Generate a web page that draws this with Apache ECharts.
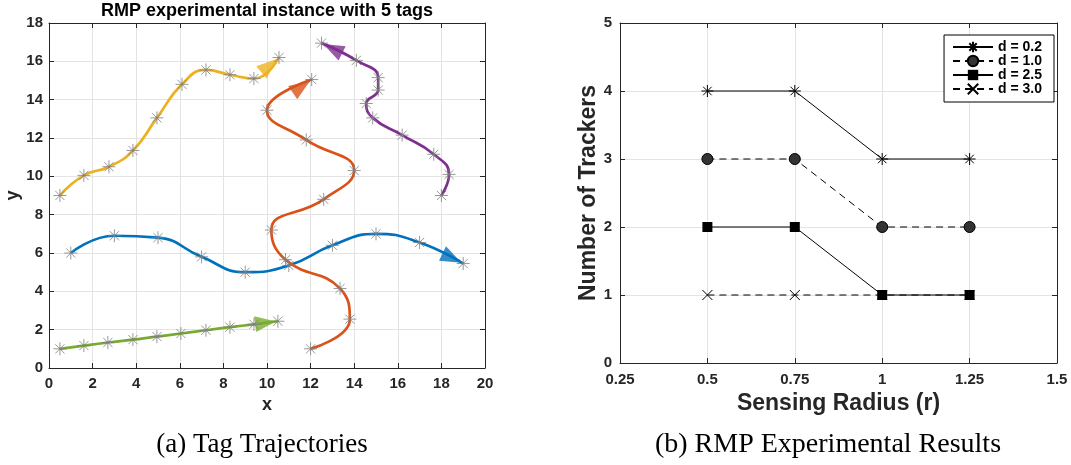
<!DOCTYPE html>
<html><head><meta charset="utf-8">
<script src="https://cdn.jsdelivr.net/npm/echarts@6/dist/echarts.min.js"></script>
<style>html,body{margin:0;padding:0;background:#fff}#c{width:1071px;height:465px}</style>
</head><body><div id="c"></div>
<script>
// ---- Left chart: tag trajectories (x, y of the sampled positions) ----
const tagNames = ['Tag 1', 'Tag 2', 'Tag 3', 'Tag 4', 'Tag 5'];
const tag1X = [1.0, 3.0, 5.0, 7.0, 9.0, 11.0, 13.0, 15.0, 17.0, 19.0];
const tag1Y = [6.0, 6.9, 6.8, 5.8, 5.0, 5.35, 6.4, 7.0, 6.55, 5.45];
const tag2X = [12.0, 13.8, 13.35, 10.85, 10.2, 12.6, 14.0, 11.8, 10.0, 12.05];
const tag2Y = [1.0, 2.55, 4.15, 5.65, 7.2, 8.8, 10.3, 11.9, 13.45, 15.05];
const tag3X = [0.5, 1.6, 2.75, 3.85, 4.95, 6.1, 7.2, 8.3, 9.4, 10.55];
const tag3Y = [9.0, 10.05, 10.5, 11.35, 13.05, 14.8, 15.55, 15.3, 15.1, 16.2];
const tag4X = [18.0, 18.35, 17.65, 16.2, 14.85, 14.55, 15.1, 15.1, 14.1, 12.5];
const tag4Y = [9.0, 10.1, 11.15, 12.15, 13.05, 13.8, 14.5, 15.15, 16.05, 16.95];
const tag5X = [0.5, 1.6, 2.7, 3.85, 4.95, 6.05, 7.2, 8.3, 9.4, 10.5];
const tag5Y = [1.0, 1.17, 1.33, 1.48, 1.64, 1.8, 1.97, 2.13, 2.28, 2.44];

// ---- Right chart: number of trackers vs sensing radius ----
const sensingRadius = [0.5, 0.75, 1.0, 1.25];
const trackersD02 = [4, 4, 3, 3];
const trackersD10 = [3, 3, 2, 2];
const trackersD25 = [2, 2, 1, 1];
const trackersD30 = [1, 1, 1, 1];
const legendLabels = ['d = 0.2', 'd = 1.0', 'd = 2.5', 'd = 3.0'];

const tagXs = [tag1X, tag2X, tag3X, tag4X, tag5X];
const tagYs = [tag1Y, tag2Y, tag3Y, tag4Y, tag5Y];
const tagColors = ['#0072BD', '#D95319', '#EDB120', '#7E2F8E', '#77AC30'];

const ASTERISK = 'path://M0,-10L0,10M-10,0L10,0M-7.07,-7.07L7.07,7.07M-7.07,7.07L7.07,-7.07';
const XMARK = 'path://M-10,-10L10,10M-10,10L10,-10';
const FONT = '"Liberation Sans", Arial, Helvetica, sans-serif';
const SERIF = '"Liberation Serif", "Times New Roman", serif';
const AXC = '#262626';

function zip(xs, ys) { return xs.map((x, i) => [x, ys[i]]); }

const chart = echarts.init(document.getElementById('c'), null, {renderer: 'canvas'});

const tickLbl = {fontFamily: FONT, fontWeight: 'bold', fontSize: 15, color: AXC};
function mainAxis(extra) {
  return Object.assign({
    type: 'value',
    axisLine: {show: true, onZero: false, lineStyle: {color: AXC, width: 1}},
    axisTick: {show: true, inside: true, length: 5, lineStyle: {color: AXC}},
    axisLabel: Object.assign({}, tickLbl),
    splitLine: {show: true, lineStyle: {color: '#e3e3e3', width: 1}},
    nameLocation: 'middle',
    nameTextStyle: {fontFamily: FONT, fontWeight: 'bold', color: AXC}
  }, extra);
}
function ghostAxis(extra) {
  return Object.assign({
    type: 'value',
    axisLine: {show: true, onZero: false, lineStyle: {color: AXC, width: 1}},
    axisTick: {show: true, inside: true, length: 5, lineStyle: {color: AXC}},
    axisLabel: {show: false},
    splitLine: {show: false}
  }, extra);
}

const series = [];
tagXs.forEach((xs, i) => {
  series.push({
    type: 'line', name: tagNames[i], xAxisIndex: 0, yAxisIndex: 0,
    data: zip(xs, tagYs[i]), smooth: 0.5, showSymbol: false, symbol: 'none',
    lineStyle: {color: tagColors[i], width: 2.7}, z: 2, silent: true
  });
});
const allMarkers = [];
tagXs.forEach((xs, i) => { allMarkers.push(...zip(xs, tagYs[i])); });
series.push({
  type: 'scatter', name: 'samples', xAxisIndex: 0, yAxisIndex: 0,
  data: allMarkers, symbol: ASTERISK, symbolSize: 13,
  itemStyle: {color: 'rgba(0,0,0,0)', borderColor: '#808080', borderWidth: 1}, z: 5, silent: true
});
const arrowSeriesIndex = series.length;
series.push({
  type: 'scatter', name: 'arrows', xAxisIndex: 0, yAxisIndex: 0,
  data: [], symbol: 'triangle', symbolSize: [16, 21], z: 4, silent: true
});

const lineBase = {type: 'line', xAxisIndex: 2, yAxisIndex: 2, silent: true, z: 3};
series.push(Object.assign({}, lineBase, {
  name: legendLabels[0], data: zip(sensingRadius, trackersD02),
  symbol: ASTERISK, symbolSize: 12,
  lineStyle: {color: '#000', width: 1, type: 'solid'},
  itemStyle: {color: 'rgba(0,0,0,0)', borderColor: '#000', borderWidth: 1}
}));
series.push(Object.assign({}, lineBase, {
  name: legendLabels[1], data: zip(sensingRadius, trackersD10),
  symbol: 'circle', symbolSize: 11,
  lineStyle: {color: '#000', width: 1, type: [7, 5]},
  itemStyle: {color: '#333', borderColor: '#000', borderWidth: 1}
}));
series.push(Object.assign({}, lineBase, {
  name: legendLabels[2], data: zip(sensingRadius, trackersD25),
  symbol: 'rect', symbolSize: 10,
  lineStyle: {color: '#000', width: 1, type: 'solid'},
  itemStyle: {color: '#000', borderColor: '#000', borderWidth: 0}
}));
series.push(Object.assign({}, lineBase, {
  name: legendLabels[3], data: zip(sensingRadius, trackersD30),
  symbol: XMARK, symbolSize: 10,
  lineStyle: {color: '#000', width: 1, type: [7, 5]},
  itemStyle: {color: 'rgba(0,0,0,0)', borderColor: '#000', borderWidth: 1}
}));

const option = {
  animation: false,
  backgroundColor: '#fff',
  title: [
    {text: 'RMP experimental instance with 5 tags', left: 267, top: 2, textAlign: 'center', padding: 0,
     textStyle: {fontFamily: FONT, fontWeight: 'bold', fontSize: 18, color: '#000'}},
    {text: '(a) Tag Trajectories', left: 262, top: 431, textAlign: 'center', padding: 0,
     textStyle: {fontFamily: SERIF, fontWeight: 'normal', fontSize: 27, color: '#000'}},
    {text: '(b) RMP Experimental Results', left: 828, top: 431, textAlign: 'center', padding: 0,
     textStyle: {fontFamily: SERIF, fontWeight: 'normal', fontSize: 28, color: '#000'}}
  ],
  legend: {
    data: legendLabels, orient: 'vertical', right: 17, top: 35,
    itemWidth: 40, itemHeight: 13, itemGap: 0,
    padding: [5, 12, 6, 8],
    borderColor: '#000', borderWidth: 1, backgroundColor: '#fff',
    textStyle: {fontFamily: FONT, fontWeight: 'bold', fontSize: 14, color: '#000'},
    selectedMode: false
  },
  grid: [
    {left: 49, top: 23, width: 436, height: 345, containLabel: false},
    {left: 620, top: 23, width: 437, height: 340, containLabel: false}
  ],
  xAxis: [
    mainAxis({gridIndex: 0, min: 0, max: 20, interval: 2, position: 'bottom', name: 'x', nameGap: 26,
      nameTextStyle: {fontFamily: FONT, fontWeight: 'bold', fontSize: 18, color: AXC},
      axisLabel: Object.assign({}, tickLbl, {margin: 8})}),
    ghostAxis({gridIndex: 0, min: 0, max: 20, interval: 2, position: 'top'}),
    mainAxis({gridIndex: 1, min: 0.25, max: 1.5, interval: 0.25, position: 'bottom', name: 'Sensing Radius (r)', nameGap: 27,
      nameTextStyle: {fontFamily: FONT, fontWeight: 'bold', fontSize: 23, color: AXC},
      axisLabel: Object.assign({}, tickLbl, {margin: 9})}),
    ghostAxis({gridIndex: 1, min: 0.25, max: 1.5, interval: 0.25, position: 'top'})
  ],
  yAxis: [
    mainAxis({gridIndex: 0, min: 0, max: 18, interval: 2, position: 'left', name: 'y', nameGap: 26,
      nameTextStyle: {fontFamily: FONT, fontWeight: 'bold', fontSize: 18, color: AXC},
      axisLabel: Object.assign({}, tickLbl, {margin: 6})}),
    ghostAxis({gridIndex: 0, min: 0, max: 18, interval: 2, position: 'right'}),
    mainAxis({gridIndex: 1, min: 0, max: 5, interval: 1, position: 'left', name: 'Number of Trackers', nameGap: 20,
      nameTextStyle: {fontFamily: FONT, fontWeight: 'bold', fontSize: 23, color: AXC},
      axisLabel: Object.assign({}, tickLbl, {margin: 8})}),
    ghostAxis({gridIndex: 1, min: 0, max: 5, interval: 1, position: 'right'})
  ],
  series: series
};
chart.setOption(option);

// Arrow heads: oriented along the last segment of each trajectory (pixel space via the chart's own scales)
const ARROW_LEN = 21;
const arrowData = tagXs.map((xs, i) => {
  const ys = tagYs[i];
  const n = xs.length;
  const p1 = chart.convertToPixel({seriesIndex: i}, [xs[n - 2], ys[n - 2]]);
  const p2 = chart.convertToPixel({seriesIndex: i}, [xs[n - 1], ys[n - 1]]);
  const th = Math.atan2(-(p2[1] - p1[1]), p2[0] - p1[0]);
  return {
    value: [xs[n - 1], ys[n - 1]],
    symbolRotate: th * 180 / Math.PI - 90,
    symbolOffset: [-(ARROW_LEN / 2 + 2) * Math.cos(th), (ARROW_LEN / 2 + 2) * Math.sin(th)],
    itemStyle: {color: tagColors[i]}
  };
});
chart.setOption({series: series.map((s, k) => k === arrowSeriesIndex ? {data: arrowData} : {})});
</script>
</body></html>
